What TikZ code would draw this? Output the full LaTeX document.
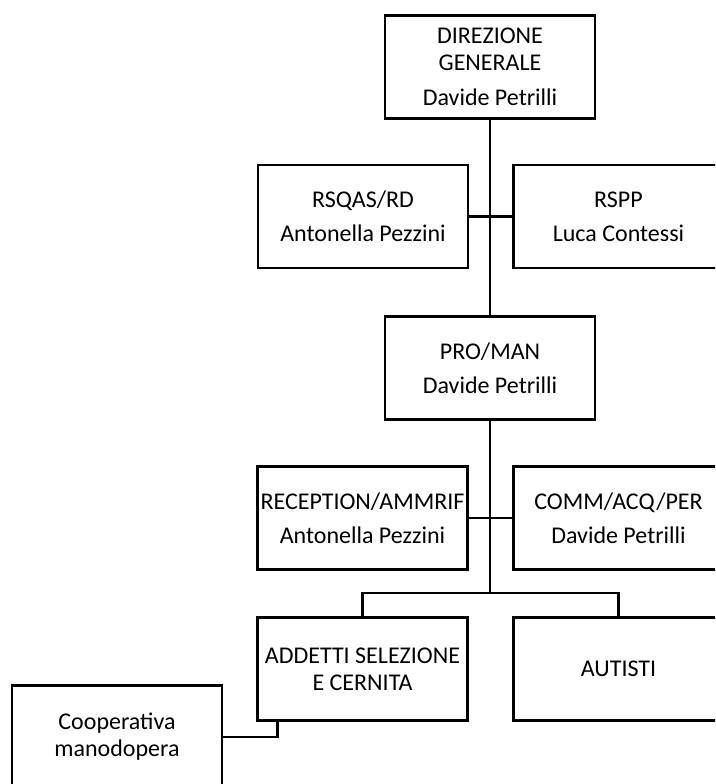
\documentclass[tikz,border=0pt]{standalone}
\usepackage{fontspec}
\setmainfont{Carlito}
\begin{document}
\begin{tikzpicture}[x=1pt,y=-1pt,
  box/.style={draw=black, line width=2.8pt, fill=white, minimum width=210pt, minimum height=103pt,
    inner sep=0pt, align=center, font=\fontsize{24}{27}\selectfont},
  link/.style={draw=black, line width=2.8pt}]
\useasboundingbox (0,0) rectangle (715,784);
\clip (0,0) rectangle (715,784);
% connectors first (behind boxes)
\node[box] (dg) at (490,67) {DIREZIONE\\GENERALE\\[8pt]Davide Petrilli};
\node[box] (rsqas) at (363,216.5) {RSQAS/RD\\[7pt]Antonella Pezzini};
\node[box] (rspp) at (618.5,216.5) {RSPP\\[7pt]Luca Contessi};
\node[box] (pro) at (490,368) {PRO/MAN\\[7pt]Davide Petrilli};
\node[box] (rec) at (362.5,518) {RECEPTION/AMMRIF\\[7pt]Antonella Pezzini};
\node[box] (comm) at (618.5,518) {COMM/ACQ/PER\\[7pt]Davide Petrilli};
\node[box] (add) at (362.5,669) {ADDETTI SELEZIONE\\E CERNITA};
\node[box] (aut) at (618.5,669) {AUTISTI};
\node[box] (coop) at (117,737) {Cooperativa\\manodopera};
\coordinate (bar) at (490,593);
\draw[link] (dg.south) -- (pro.north);
\draw[link] (rsqas.east) -- (rspp.west);
\draw[link] (pro.south) -- (bar);
\draw[link] (rec.east) -- (comm.west);
\draw[link] (add.north) |- (bar) -| (aut.north);
\draw[link] (coop.east) -| ([xshift=21pt]add.south west);
\end{tikzpicture}
\end{document}
